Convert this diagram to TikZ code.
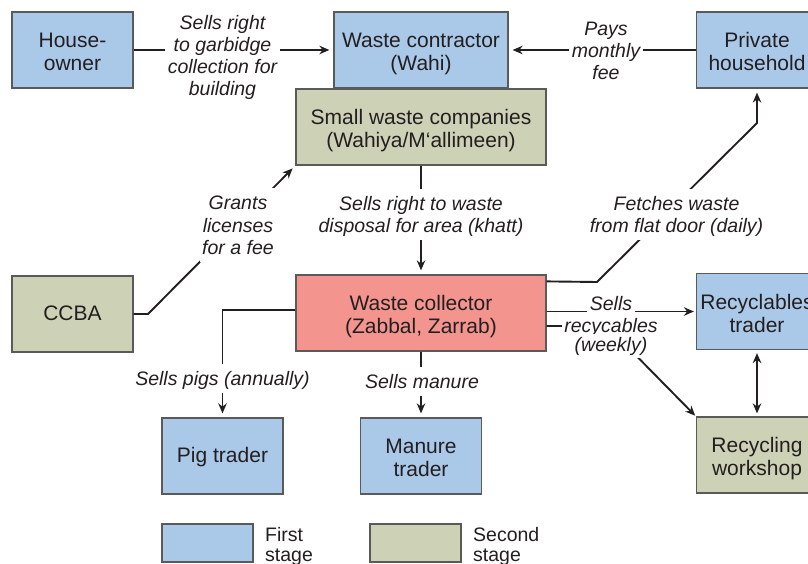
\documentclass[tikz,border=0pt]{standalone}
\usepackage{fontspec}
\setmainfont{Liberation Sans}
\usetikzlibrary{arrows.meta,calc}
\definecolor{fsblue}{HTML}{AAC8E8}
\definecolor{fsgreen}{HTML}{CDD1B5}
\definecolor{fsred}{HTML}{F4948F}
\definecolor{fsedge}{HTML}{5A5A5A}
\definecolor{fsink}{HTML}{231F20}
\begin{document}
\begin{tikzpicture}[x=1pt,y=-1pt,
  box/.style={draw=fsedge, line width=1.2pt, minimum height=76pt, minimum width=121pt,
    align=center, font=\fontsize{21}{23}\selectfont, text=fsink, inner sep=2pt,
    text height=18pt, text depth=5pt},
  boxtwo/.style={box, text height=46pt},
  legbox/.style={draw=fsedge, line width=1.2pt, minimum width=91pt, minimum height=38pt, inner sep=0pt},
  legtext/.style={anchor=west, align=left, font=\fontsize{19.5}{20}\selectfont, text=fsink, inner sep=2pt},
  lbl/.style={fill=white, align=center, font=\fontsize{19.5}{22}\selectfont\itshape, text=fsink, inner sep=2.5pt,
    text height=19pt, text depth=5pt},
  lbltwo/.style={lbl, text height=41pt},
  lblthree/.style={lbl, text height=63pt},
  lblfour/.style={lbl, text height=85pt},
  lblbase/.style={fill=white, anchor=base, font=\fontsize{19.5}{22}\selectfont\itshape, text=fsink, inner sep=2.5pt},
  conn/.style={draw=fsink, line width=1.9pt, -{Stealth[length=10pt,width=8.5pt]}, shorten >=4pt}]
\useasboundingbox (0,0) rectangle (808,564);
\clip (0,0) rectangle (808,564);
\fill[white] (0,0) rectangle (808,564);

% boxes
\node[boxtwo, fill=fsblue] (house) at (72.5,50) {House-\\owner};
\node[boxtwo, fill=fsblue, minimum width=174pt] (contractor) at (421,50) {Waste contractor\\(Wahi)};
\node[boxtwo, fill=fsblue] (household) at (757,50) {Private\\household};
\node[boxtwo, fill=fsgreen, minimum width=250pt] (small) at (421,127) {Small waste companies\\(Wahiya/M‘allimeen)};
\node[box, fill=fsgreen] (ccba) at (72.5,314) {CCBA};
\node[boxtwo, fill=fsred, minimum width=250pt] (collector) at (421,313) {Waste collector\\(Zabbal, Zarrab)};
\node[boxtwo, fill=fsblue] (rtrader) at (757,311.5) {Recyclables\\trader};
\node[boxtwo, fill=fsgreen] (workshop) at (757,455) {Recycling\\workshop};
\node[box, fill=fsblue] (pig) at (222.5,456) {Pig trader};
\node[boxtwo, fill=fsblue] (manure) at (421,456) {Manure\\trader};

% legend
\node[legbox, fill=fsblue] (legA) at (207.5,543) {};
\node[legtext] (legAt) at (263,546) {First\\stage};
\node[legbox, fill=fsgreen] (legB) at (415.5,543) {};
\node[legtext] (legBt) at (471,546) {Second\\stage};

% connectors
\draw[conn] (house) -- (contractor);
\draw[conn] (household) -- (contractor);
\draw[conn] (ccba.east) -- (148,314) -- (small.south west);
\draw[conn] (small) -- (collector);
\draw[conn] ([yshift=-7pt]collector.north east) -- (597,282) -- (757,123) -- (household.south);
\draw[conn, shorten >=2pt] (collector.east |- rtrader.west) -- (rtrader.west);
\draw[conn, shorten >=1pt] ([yshift=-13pt]collector.east) -- (607,326) -- (workshop.north west);
\draw[conn] ([yshift=3pt]collector.west) -| (pig.north);
\draw[conn] (collector) -- (manure);
\draw[conn, {Stealth[length=10pt,width=8.5pt]}-{Stealth[length=10pt,width=8.5pt]}, shorten <=3pt, shorten >=3pt] (rtrader) -- (workshop);

% labels
\node[lblfour] (l1) at (222.5,56) {Sells right\\to garbidge\\collection for\\building};
\node[lblthree] (l2) at (606,51) {Pays\\monthly\\fee};
\node[lblthree] (l3) at (238,225) {Grants\\licenses\\for a fee};
\node[lbltwo] (l4) at (421,214.5) {Sells right to waste\\disposal for area (khatt)};
\node[lbltwo] (l5) at (676.5,214.5) {Fetches waste\\from flat door (daily)};
\node[lblbase] (l6a) at (611,310.5) {Sells};
\node[lblbase] (l6b) at (611,332) {recycables};
\node[lblbase] (l6c) at (611,351) {(weekly)};
\node[lbl] (l7) at (222.5,378) {Sells pigs (annually)};
\node[lbl] (l8) at (422,381) {Sells manure};
\end{tikzpicture}
\end{document}
